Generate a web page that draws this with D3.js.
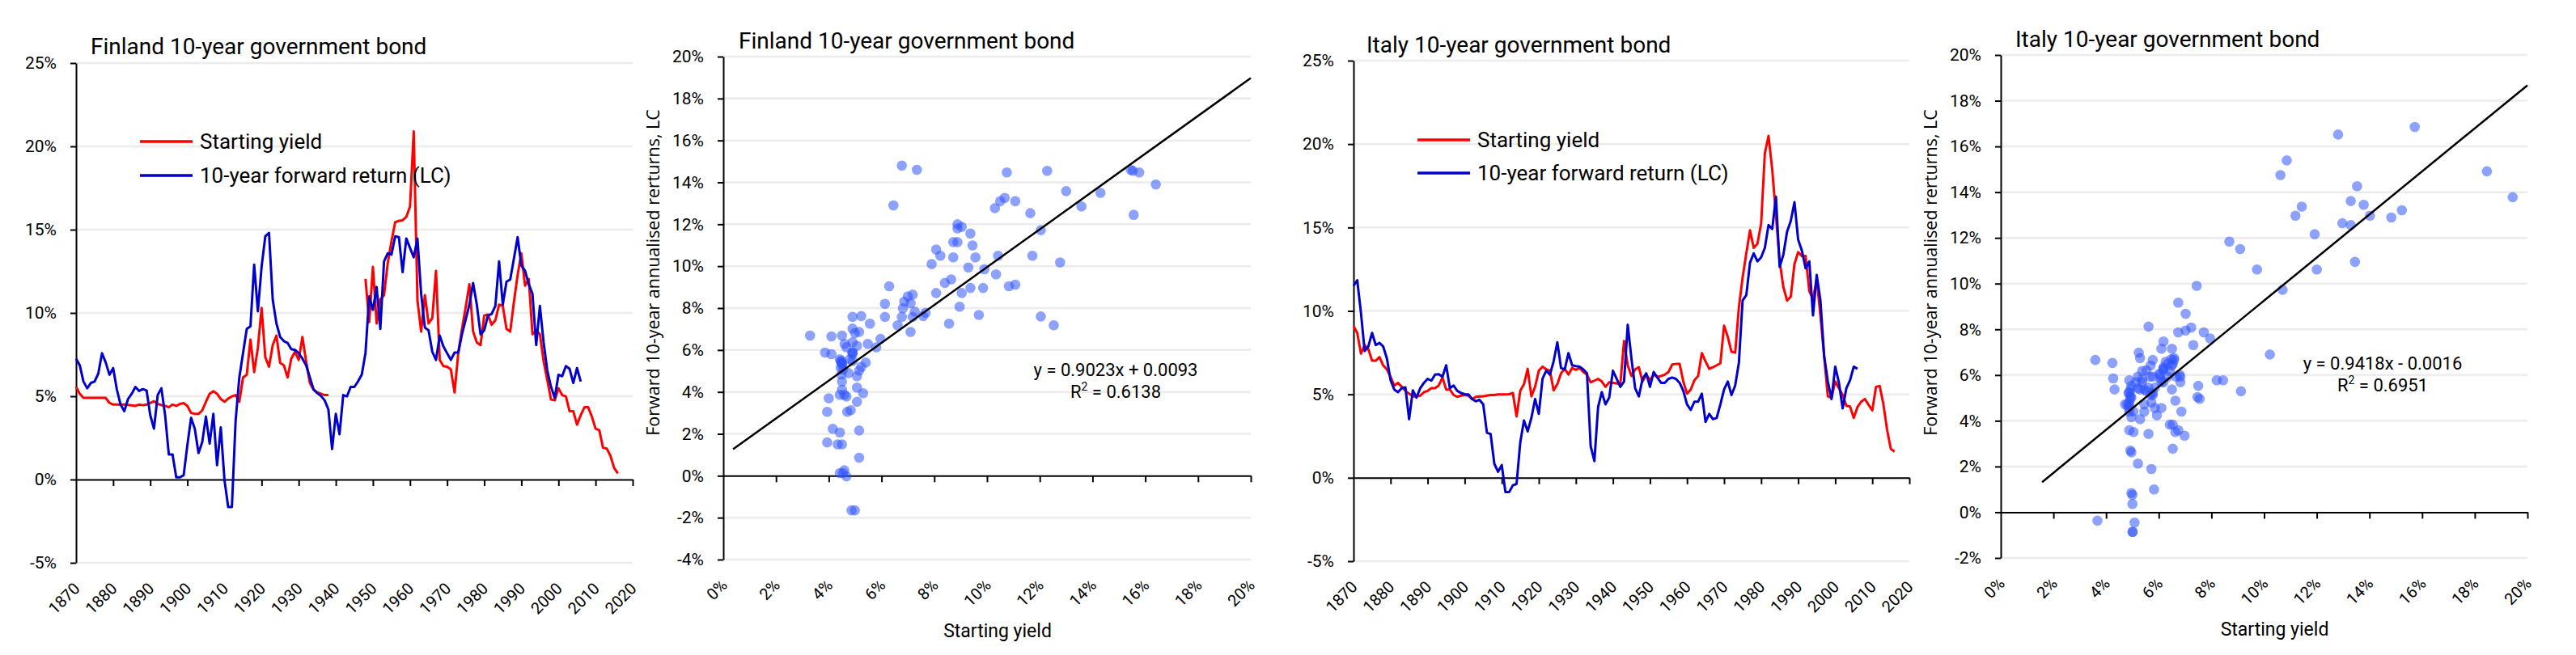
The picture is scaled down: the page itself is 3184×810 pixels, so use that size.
<!DOCTYPE html>
<html>
<head>
<meta charset="utf-8">
<script src="https://cdn.jsdelivr.net/npm/d3@7"></script>
<style>
  body { margin: 0; background: #fff; }
  svg { display: block; }
  text { font-family: Roboto, "Liberation Sans", Arial, sans-serif; fill: #000; }
</style>
</head>
<body>
<div id="viz"></div>
<script>
// ---- data (percent), one value per year from 1870 ----
const firstYear = 1870;

const finlandYield = [
  5.56, 5.15, 4.9, 4.9, 4.9, 4.9, 4.9, 4.9, 4.9, 4.6,
  4.5, 4.5, 4.5, 4.5, 4.48, 4.45, 4.42, 4.5, 4.46, 4.5,
  4.59, 4.7, 4.54, 4.47, 4.42, 4.34, 4.5, 4.42, 4.54, 4.59,
  4.42, 4.0, 3.94, 3.94, 4.15, 4.67, 5.15, 5.3, 5.15, 4.83,
  4.67, 4.86, 4.99, 5.07, 4.67, 6.13, 6.29, 8.4, 6.45, 7.9,
  10.3, 7.34, 6.77, 8.07, 8.64, 7.0, 6.86, 6.13, 7.26, 7.67,
  7.18, 8.56, 7.1, 5.8, 5.4, 5.23, 5.15, 5.07, 5.07, null,
  null, null, null, null, null, null, null, null, 12.04, 9.45,
  12.77, 9.37, 10.83, 11.07, 13.0, 14.3, 15.45, 15.53, 15.56, 15.77,
  16.4, 20.9, 10.75, 8.88, 11.07, 9.37, 9.69, 12.53, 7.18, 6.81,
  6.77, 6.61, 5.23, 7.58, 9.04, 10.34, 11.72, 8.88, 8.23, 8.07,
  9.85, 9.9, 9.29, 9.56, 10.5, 10.42, 9.04, 8.88, 10.67, 12.28,
  13.58, 11.64, 12.04, 8.72, 8.96, 8.72, 7.1, 5.96, 4.8, 4.75,
  5.48, 5.07, 4.99, 4.1, 4.1, 3.29, 3.86, 4.34, 4.34, 3.78,
  3.05, 2.97, 1.91, 1.86, 1.43, 0.7, 0.37
];

const finlandReturn = [
  7.26, 6.86, 5.88, 5.48, 5.8, 5.88, 6.37, 7.58, 7.02, 6.29,
  6.69, 5.4, 4.5, 4.1, 4.83, 5.15, 5.56, 5.32, 5.43, 5.35,
  3.86, 3.05, 5.07, 5.48, 3.86, 1.5, 1.5, 0.13, 0.13, 0.26,
  2.07, 3.7, 3.05, 1.59, 2.24, 3.78, 2.16, 3.94, 0.86, 3.13,
  -0.03, -1.65, -1.65, 3.53, 6.13, 7.58, 9.04, 9.2, 12.9, 10.1,
  12.77, 14.6, 14.8, 10.8, 9.37, 8.56, 8.31, 8.2, 7.83, 7.78,
  7.58, 7.26, 6.86, 6.13, 5.4, 5.19, 5.02, 4.75, 4.21, 1.83,
  3.94, 2.72, 5.07, 4.99, 5.56, 5.56, 5.9, 6.3, 7.6, 10.99,
  10.18, 11.56, 9.04, 13.1, 13.58, 13.5, 14.6, 14.55, 12.45, 14.47,
  13.9, 13.34, 14.47, 11.15, 9.12, 8.96, 7.67, 7.18, 8.64, 7.99,
  7.58, 7.18, 7.62, 7.62, 8.72, 9.61, 10.5, 11.8, 10.5, 8.72,
  8.96, 9.85, 9.94, 10.42, 13.1, 10.5, 11.88, 12.0, 13.26, 14.55,
  12.85, 12.53, 11.72, 11.15, 8.07, 10.42, 8.23, 6.53, 5.56, 4.9,
  6.29, 6.2, 6.81, 6.65, 5.8, 6.69, 5.88
];

const italyYield = [
  9.09, 8.68, 7.44, 7.95, 7.71, 7.02, 7.02, 7.23, 6.74, 6.5,
  6.05, 5.53, 5.69, 5.45, 5.21, 5.04, 4.88, 4.88, 4.92, 5.13,
  5.21, 5.37, 5.37, 5.53, 6.01, 5.29, 5.29, 4.96, 4.85, 4.92,
  4.96, 4.92, 4.72, 4.85, 4.88, 4.88, 4.92, 4.96, 4.96, 5.0,
  5.0, 5.0, 5.01, 5.08, 3.67, 5.21, 5.61, 6.53, 4.88, 5.45,
  6.42, 6.66, 6.5, 6.42, 5.24, 5.61, 6.26, 6.53, 6.18, 6.58,
  6.47, 6.58, 6.34, 6.18, 5.72, 5.82, 5.93, 5.77, 5.45, 5.72,
  5.69, 5.66, 5.61, 8.2, 6.74, 6.1, 6.5, 6.63, 5.77, 6.18,
  5.85, 6.18, 6.05, 6.1, 6.18, 6.34, 6.79, 6.82, 6.82, 5.77,
  5.04, 5.29, 5.85, 6.1, 7.47, 6.98, 6.53, 6.63, 6.74, 6.86,
  9.12, 8.44, 7.55, 7.5, 10.22, 12.0, 13.45, 14.83, 13.78, 14.02,
  15.23, 19.44, 20.49, 18.46, 15.72, 12.97, 11.43, 10.62, 10.86, 12.81,
  13.53, 13.29, 13.29, 11.19, 10.7, 11.92, 9.73, 7.31, 4.88, 4.8,
  5.77, 5.37, 4.96, 4.32, 4.27, 3.59, 4.24, 4.56, 4.72, 4.37,
  4.04, 5.45, 5.5, 4.4, 2.86, 1.73, 1.57
];

const italyReturn = [
  11.51, 11.84, 9.9, 7.6, 7.87, 8.68, 7.95, 8.08, 7.87, 7.15,
  5.85, 5.29, 5.13, 5.37, 5.42, 3.51, 5.24, 4.8, 5.37, 5.69,
  5.93, 5.82, 6.18, 6.21, 6.05, 6.74, 5.37, 5.53, 5.21, 5.08,
  5.01, 5.0, 4.72, 4.59, 4.67, 4.4, 2.7, 2.62, 0.84, 0.36,
  0.76, -0.86, -0.86, -0.45, -0.37, 2.13, 3.43, 2.78, 3.59, 4.72,
  3.83, 5.93, 6.42, 6.18, 6.98, 8.12, 6.58, 6.5, 7.47, 6.74,
  6.69, 6.66, 6.5, 6.26, 1.89, 1.0, 4.24, 5.13, 4.4, 4.8,
  6.42, 5.93, 5.45, 5.77, 9.17, 7.15, 5.37, 4.88, 5.93, 6.26,
  5.45, 6.34, 6.01, 5.69, 5.69, 5.93, 6.01, 5.93, 5.69, 5.21,
  4.4, 4.07, 4.56, 4.56, 5.04, 3.35, 3.83, 3.51, 3.59, 4.4,
  5.29, 5.77, 4.96, 5.53, 6.9, 10.62, 10.95, 12.89, 13.45, 12.97,
  13.21, 13.78, 15.15, 14.91, 16.85, 12.64, 13.37, 14.75, 15.39, 16.52,
  14.26, 13.61, 12.56, 12.97, 9.73, 12.16, 10.62, 7.31, 5.77, 4.72,
  6.66, 5.69, 4.16, 5.37, 5.85, 6.66, 6.53
];

// trendline coefficients as printed on the charts (fraction units)
const finlandFit = { slope: 0.9023, intercept: 0.0093, r2: 0.6138 };
const italyFit = { slope: 0.9418, intercept: -0.0016, r2: 0.6951 };

// ticks
const seriesYTicks = [-5, 0, 5, 10, 15, 20, 25];
const yearTicks = [1870, 1880, 1890, 1900, 1910, 1920, 1930, 1940, 1950, 1960, 1970, 1980, 1990, 2000, 2010, 2020];
const finScatterYTicks = [-4, -2, 0, 2, 4, 6, 8, 10, 12, 14, 16, 18, 20];
const itaScatterYTicks = [-2, 0, 2, 4, 6, 8, 10, 12, 14, 16, 18, 20];
const scatterXTicks = [0, 2, 4, 6, 8, 10, 12, 14, 16, 18, 20];

const legendLabels = ["Starting yield", "10-year forward return (LC)"];
const seriesColors = ["#ff0000", "#0000cc"];

// ---- drawing ----
const W = 3184, H = 810;
const svg = d3.select("#viz").append("svg").attr("width", W).attr("height", H);
const defs = svg.append("defs");

const GRID = "#ececec";

function toPairs(values) {
  return values.map((v, i) => [firstYear + i, v]);
}

function styleAxis(sel) {
  sel.select(".domain").attr("stroke", "#000").attr("stroke-width", 2);
  sel.selectAll(".tick line").attr("stroke", "#000").attr("stroke-width", 2);
  sel.selectAll(".tick text").style("font-size", "21px").attr("fill", "#000");
}

function gridLines(g, y, ticks, left, right) {
  g.append("g")
    .selectAll("line")
    .data(ticks.filter((d) => d !== 0))
    .join("line")
    .attr("x1", left)
    .attr("x2", right)
    .attr("y1", (d) => y(d))
    .attr("y2", (d) => y(d))
    .attr("stroke", GRID)
    .attr("stroke-width", 2.5);
}

function bottomLabels(g, x, ticks, bottom, fmt) {
  g.append("g")
    .selectAll("text")
    .data(ticks)
    .join("text")
    .attr("text-anchor", "end")
    .attr("transform", (d) => `translate(${x(d) + 6},${bottom + 33}) rotate(-45)`)
    .style("font-size", "20px")
    .text(fmt);
}

function drawSeries(cfg) {
  const g = svg.append("g");
  const x = d3.scaleLinear().domain([1870, 2020]).range([cfg.left, cfg.right]);
  const y = d3.scaleLinear().domain([-5, 25]).range([cfg.bottom, cfg.top]);

  gridLines(g, y, seriesYTicks, cfg.left, cfg.right);

  g.append("g")
    .attr("transform", `translate(${cfg.left},0)`)
    .call(d3.axisLeft(y).tickValues(seriesYTicks).tickSize(7).tickSizeOuter(0).tickPadding(17).tickFormat((d) => d + "%"))
    .call(styleAxis);

  g.append("g")
    .attr("transform", `translate(0,${y(0)})`)
    .call(d3.axisBottom(x).tickValues(yearTicks.slice(1)).tickSize(8).tickSizeOuter(0).tickFormat(""))
    .call(styleAxis);

  bottomLabels(g, x, yearTicks, cfg.bottom, (d) => d);

  const line = d3
    .line()
    .defined((d) => d[1] != null)
    .x((d) => x(d[0]))
    .y((d) => y(d[1]));

  [cfg.yield, cfg.ret].forEach((vals, i) => {
    g.append("path")
      .datum(toPairs(vals))
      .attr("d", line)
      .attr("fill", "none")
      .attr("stroke", seriesColors[i])
      .attr("stroke-width", 3)
      .attr("stroke-linejoin", "round");
  });

  g.append("text")
    .attr("x", cfg.titleX)
    .attr("y", cfg.titleY)
    .style("font-size", "28px")
    .text(cfg.title);

  const lg = g.append("g");
  legendLabels.forEach((lab, i) => {
    const ly = cfg.legendY[i];
    lg.append("line")
      .attr("x1", cfg.left + 79)
      .attr("x2", cfg.left + 144)
      .attr("y1", ly)
      .attr("y2", ly)
      .attr("stroke", seriesColors[i])
      .attr("stroke-width", 3.5);
    lg.append("text")
      .attr("x", cfg.left + 153)
      .attr("y", ly)
      .attr("dy", "0.35em")
      .style("font-size", "26px")
      .text(lab);
  });
}

function drawScatter(cfg) {
  const g = svg.append("g");
  const x = d3.scaleLinear().domain([0, 20]).range([cfg.left, cfg.right]);
  const y = d3.scaleLinear().domain(cfg.yDomain).range([cfg.bottom, cfg.top]);

  gridLines(g, y, cfg.yTicks, cfg.left, cfg.right);

  g.append("g")
    .attr("transform", `translate(${cfg.left},0)`)
    .call(d3.axisLeft(y).tickValues(cfg.yTicks).tickSize(7).tickSizeOuter(0).tickPadding(17).tickFormat((d) => d + "%"))
    .call(styleAxis);

  g.append("g")
    .attr("transform", `translate(0,${y(0)})`)
    .call(d3.axisBottom(x).tickValues(scatterXTicks.slice(1)).tickSize(8).tickSizeOuter(0).tickFormat(""))
    .call(styleAxis);

  bottomLabels(g, x, scatterXTicks, cfg.bottom, (d) => d + "%");

  // pairs: starting yield vs forward return of the same year
  const pts = [];
  cfg.ret.forEach((r, i) => {
    const s = cfg.yield[i];
    if (r != null && s != null) pts.push([s, r]);
  });

  const clipId = cfg.id + "-clip";
  defs.append("clipPath")
    .attr("id", clipId)
    .append("rect")
    .attr("x", cfg.left)
    .attr("y", cfg.top)
    .attr("width", cfg.right - cfg.left)
    .attr("height", cfg.bottom - cfg.top);

  g.append("g")
    .attr("clip-path", `url(#${clipId})`)
    .selectAll("circle")
    .data(pts)
    .join("circle")
    .attr("cx", (d) => x(d[0]))
    .attr("cy", (d) => y(d[1]))
    .attr("r", 6.3)
    .attr("fill", "#2f54ff")
    .attr("fill-opacity", 0.55);

  // trendline across the range of starting yields, cut at the plot edge
  const allX = cfg.yield.filter((v) => v != null);
  const x0 = d3.min(allX);
  const x1 = Math.min(d3.max(allX), 20);
  const fy = (v) => cfg.fit.slope * v + cfg.fit.intercept * 100;
  g.append("line")
    .attr("x1", x(x0))
    .attr("y1", y(fy(x0)))
    .attr("x2", x(x1))
    .attr("y2", y(fy(x1)))
    .attr("stroke", "#000")
    .attr("stroke-width", 2.5);

  const sign = cfg.fit.intercept < 0 ? "-" : "+";
  g.append("text")
    .attr("x", cfg.eqX)
    .attr("y", cfg.eqY)
    .attr("text-anchor", "middle")
    .style("font-size", "22px")
    .text(`y = ${cfg.fit.slope.toFixed(4)}x ${sign} ${Math.abs(cfg.fit.intercept).toFixed(4)}`);

  const r2 = g.append("text")
    .attr("x", cfg.eqX)
    .attr("y", cfg.eqY + 27)
    .attr("text-anchor", "middle")
    .style("font-size", "22px");
  r2.append("tspan").text("R");
  r2.append("tspan").attr("dy", -9).style("font-size", "14px").text("2");
  r2.append("tspan").attr("dy", 9).text(` = ${cfg.fit.r2.toFixed(4)}`);

  g.append("text")
    .attr("x", cfg.titleX)
    .attr("y", cfg.titleY)
    .style("font-size", "28px")
    .text(cfg.title);

  g.append("text")
    .attr("x", (cfg.left + cfg.right) / 2 + 13)
    .attr("y", cfg.bottom + 96)
    .attr("text-anchor", "middle")
    .style("font-size", "23px")
    .text("Starting yield");

  g.append("text")
    .attr("transform", `translate(${cfg.left - 79},337) rotate(-90)`)
    .attr("text-anchor", "middle")
    .style("font-family", "'Open Sans', sans-serif")
    .style("font-size", "21.5px")
    .text("Forward 10-year annualised rerturns, LC");
}

drawSeries({
  left: 94, right: 782, top: 78, bottom: 696,
  yield: finlandYield, ret: finlandReturn,
  title: "Finland 10-year government bond", titleX: 112, titleY: 67,
  legendY: [175, 217]
});

drawScatter({
  id: "fin", left: 894, right: 1546, top: 70, bottom: 692,
  yDomain: [-4, 20], yTicks: finScatterYTicks,
  yield: finlandYield, ret: finlandReturn, fit: finlandFit,
  title: "Finland 10-year government bond", titleX: 913, titleY: 60,
  eqX: 1379, eqY: 465
});

drawSeries({
  left: 1673, right: 2360, top: 75, bottom: 694,
  yield: italyYield, ret: italyReturn,
  title: "Italy 10-year government bond", titleX: 1689, titleY: 65,
  legendY: [173, 214]
});

drawScatter({
  id: "ita", left: 2473, right: 3124, top: 68, bottom: 690,
  yDomain: [-2, 20], yTicks: itaScatterYTicks,
  yield: italyYield, ret: italyReturn, fit: italyFit,
  title: "Italy 10-year government bond", titleX: 2491, titleY: 58,
  eqX: 2945, eqY: 457
});
</script>
</body>
</html>
